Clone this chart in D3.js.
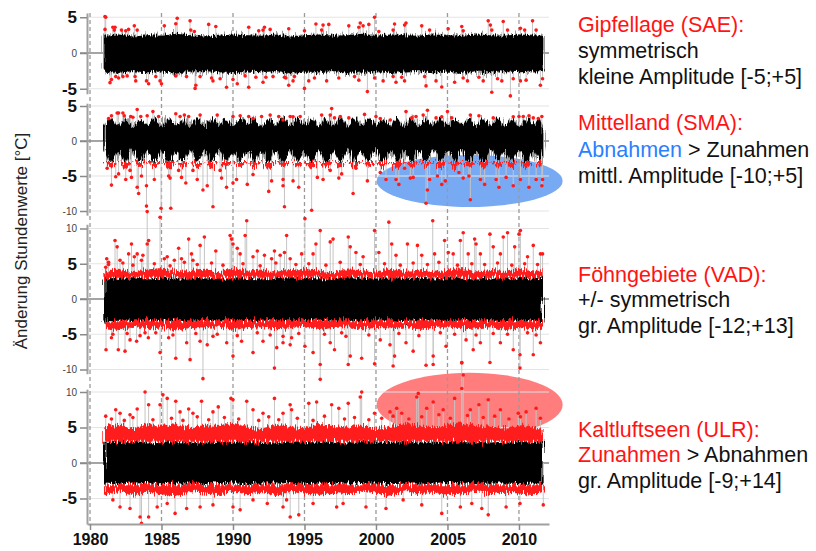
<!DOCTYPE html>
<html>
<head>
<meta charset="utf-8">
<script src="https://cdn.jsdelivr.net/npm/d3@7"></script>
<style>
  body { margin: 0; background: #fff; }
  text { font-family: "Liberation Sans", Arial, sans-serif; }
</style>
</head>
<body>
<div id="chart"></div>
<script>
// ---- data ----
const yearTicks = [1980, 1985, 1990, 1995, 2000, 2005, 2010];
const yearTimes = d3.range(1981, 2012).concat([2011.65]);            // yearly envelope points
const halfYearTimes = d3.range(1981, 2011.6, 0.5).concat([2011.65]); // half-year envelope points (SMA)
const redThreshold = 3;

// Gipfellage SAE
const saeHi = [2.4,2.6,2.3,2.5,2.4,2.7,2.5,2.3,2.4,2.6,2.5,2.4,2.6,2.3,2.5,2.6,2.4,2.5,2.7,2.4,2.6,2.5,2.4,2.6,2.5,2.4,2.6,2.5,2.4,2.6,2.5,2.4];
const saeLo = [-2.6,-2.8,-2.5,-2.7,-2.6,-2.9,-2.6,-2.5,-2.7,-2.8,-2.6,-2.7,-2.5,-2.8,-2.6,-2.7,-2.5,-2.8,-2.6,-2.7,-2.8,-2.6,-2.5,-2.7,-2.6,-2.8,-2.6,-2.7,-2.5,-2.7,-2.6,-2.5];
const saeDots = [[1981.05,5.1],[1981.1,5.0],[1981.05,3.3],[1981.6,3.6],[1981.7,3.2],[1981.75,3.6],[1982.2,3.2],[1982.5,3.1],[1982.7,3.3],[1983.1,3.8],[1983.3,3.2],[1985.2,3.8],[1986.0,4.1],[1986.1,4.85],[1987.0,4.5],[1987.05,3.2],[1987.3,3.0],[1988.3,4.0],[1988.8,3.7],[1991.1,3.6],[1991.8,3.1],[1992.1,3.2],[1992.2,3.6],[1992.6,3.3],[1993.9,3.4],[1995.0,3.1],[1995.8,4.05],[1996.2,3.2],[1996.3,3.9],[1996.7,4.0],[1998.1,3.8],[1998.8,3.6],[1998.9,4.2],[1999.1,3.8],[1999.5,4.0],[1999.9,5.0],[2000.2,3.0],[2001.2,3.2],[2001.3,4.05],[2002.0,3.9],[2002.1,4.2],[2003.2,3.8],[2003.75,3.2],[2005.05,3.4],[2006.0,3.7],[2006.1,3.1],[2007.85,4.5],[2008.0,3.9],[2008.1,3.2],[2008.9,4.4],[2009.2,3.2],[2010.1,3.45],[2010.4,3.2],[2010.95,4.5],[2011.2,3.2],
  [1981.4,-4.15],[1981.5,-3.7],[1981.8,-3.3],[1982.0,-3.5],[1982.3,-3.3],[1982.6,-3.2],[1983.15,-3.3],[1983.2,-3.9],[1983.95,-3.9],[1984.1,-4.3],[1984.6,-3.3],[1984.9,-3.9],[1985.0,-4.3],[1986.0,-3.2],[1986.75,-3.3],[1987.35,-4.95],[1987.4,-4.5],[1987.7,-3.3],[1988.5,-3.5],[1988.6,-3.9],[1989.1,-3.6],[1989.55,-4.8],[1990.0,-3.7],[1990.3,-4.3],[1990.85,-3.2],[1991.1,-4.8],[1991.6,-3.4],[1992.1,-4.1],[1992.3,-3.4],[1992.8,-3.3],[1993.6,-3.4],[1993.7,-3.5],[1993.9,-4.5],[1994.2,-3.9],[1994.3,-3.3],[1995.0,-4.95],[1995.3,-3.9],[1995.7,-3.5],[1996.55,-3.9],[1997.4,-3.5],[1998.5,-3.3],[1998.8,-3.8],[1999.4,-5.4],[1999.9,-3.5],[2000.5,-3.9],[2001.2,-3.3],[2001.4,-4.1],[2001.8,-3.4],[2002.0,-3.9],[2003.4,-3.3],[2003.5,-4.6],[2004.2,-3.9],[2004.6,-4.75],[2005.5,-4.1],[2006.1,-3.5],[2006.4,-3.9],[2007.2,-3.4],[2007.5,-3.9],[2008.1,-5.5],[2008.5,-3.6],[2008.8,-3.9],[2009.4,-6.0],[2009.6,-3.6],[2010.1,-3.9],[2010.5,-3.8],[2011.5,-4.5],[2011.65,-3.6]];

// Mittelland SMA (half-year points: winter neck, summer bulge)
const smaHi = [2.1,3.2,2.2,3.3,2.0,3.1,2.3,3.2,2.1,3.3,2.2,3.1,2.0,3.3,2.1,3.1,2.3,3.2,2.1,3.3,2.2,3.2,2.0,3.1,2.2,3.3,2.1,3.2,2.3,3.1,2.1,3.3,2.2,3.2,2.0,3.3,2.1,3.2,2.3,3.1,2.2,3.3,2.1,3.2,2.0,3.3,2.2,3.2,2.1,3.1,2.3,3.3,2.1,3.2,2.2,3.1,2.1,3.3,2.0,3.2,2.2,3.1,2.2];
const smaLo = [-1.3,-3.0,-1.5,-3.1,-1.2,-2.9,-1.4,-3.0,-1.3,-3.1,-1.5,-2.9,-1.2,-3.0,-1.4,-3.1,-1.3,-3.0,-1.5,-2.9,-1.4,-3.0,-1.2,-3.1,-1.4,-3.0,-1.3,-2.9,-1.5,-3.1,-1.3,-3.0,-1.4,-3.0,-1.2,-3.1,-1.4,-2.9,-1.3,-3.0,-1.5,-3.1,-1.3,-3.0,-1.4,-2.9,-1.2,-3.0,-1.4,-3.1,-1.3,-3.0,-1.4,-3.1,-1.3,-2.9,-1.5,-3.0,-1.3,-3.1,-1.4,-3.0,-1.4];
const smaRedLo = [-3.0,-3.8,-3.0,-4.0,-3.0,-3.7,-3.0,-3.9,-3.0,-4.1,-3.0,-3.8,-3.0,-3.9,-3.0,-4.0,-3.0,-3.8,-3.0,-3.7,-3.0,-3.9,-3.0,-4.0,-3.0,-3.8,-3.0,-3.7,-3.0,-4.1,-3.0,-3.9,-3.0,-3.8,-3.0,-4.0,-3.0,-3.7,-3.0,-3.9,-3.0,-4.0,-3.0,-3.8,-3.0,-3.7,-3.0,-3.9,-3.0,-4.0,-3.0,-3.8,-3.0,-4.1,-3.0,-3.8,-3.0,-3.9,-3.0,-4.0,-3.0,-3.8,-3.0];
const smaDots = [[1981.3,3.2],[1981.5,3.6],[1981.9,4.0],[1982.0,4.0],[1982.3,4.0],[1982.4,3.6],[1982.85,3.5],[1983.0,3.4],[1983.3,4.5],[1983.55,3.5],[1984.0,3.6],[1984.4,4.2],[1984.8,3.5],[1986.0,3.9],[1986.3,3.5],[1986.6,3.7],[1986.9,3.5],[1987.7,3.7],[1988.9,3.7],[1990.0,3.5],[1990.5,3.6],[1991.1,3.5],[1991.4,3.2],[1992.0,3.5],[1992.6,3.7],[1993.2,3.5],[1993.5,3.0],[1994.0,3.5],[1994.2,3.45],[1994.7,3.5],[1996.2,3.7],[1996.8,3.7],[1996.9,4.65],[1997.1,3.3],[1997.5,3.5],[1998.1,3.3],[1999.2,3.8],[2000.0,3.5],[2000.3,3.2],[2001.0,3.0],[2002.1,4.2],[2002.5,3.3],[2002.8,3.5],[2003.3,3.7],[2003.6,4.4],[2004.2,3.3],[2004.6,3.45],[2005.0,4.2],[2005.3,3.3],[2006.6,3.7],[2007.2,3.6],[2008.2,3.3],[2009.6,3.45],[2010.0,3.5],[2010.3,3.5],[2010.7,3.6],[2011.0,3.3],[2011.35,3.2],[2011.6,3.5],
  [1981.2,-3.9],[1981.5,-3.5],[1981.8,-5.1],[1981.5,-6.3],[1982.0,-4.7],[1982.4,-3.7],[1982.5,-5.5],[1982.8,-4.2],[1982.9,-5.2],[1983.3,-6.6],[1983.4,-7.5],[1983.6,-5.0],[1983.95,-6.4],[1983.95,-9.3],[1984.5,-5.5],[1984.97,-9.6],[1985.5,-5.0],[1985.6,-5.3],[1985.65,-9.6],[1986.2,-4.2],[1986.4,-5.2],[1986.7,-6.0],[1987.2,-4.2],[1987.5,-5.5],[1987.9,-7.0],[1988.2,-6.4],[1988.6,-9.4],[1989.1,-4.2],[1989.2,-5.3],[1989.55,-6.6],[1990.0,-6.0],[1990.25,-5.5],[1991.0,-6.2],[1991.4,-4.8],[1992.5,-7.2],[1992.7,-5.7],[1993.5,-6.4],[1993.6,-9.4],[1993.5,-5.5],[1994.2,-5.7],[1994.6,-6.6],[1995.5,-9.9],[1995.9,-5.2],[1996.3,-5.5],[1996.8,-4.2],[1997.4,-5.3],[1997.6,-4.7],[1998.4,-7.5],[1998.6,-3.9],[1999.4,-5.7],[2000.3,-4.5],[2000.7,-5.5],[2001.4,-5.5],[2001.6,-6.2],[2002.0,-3.9],[2002.4,-5.3],[2002.6,-5.2],[2003.5,-8.9],[2003.6,-7.0],[2003.75,-5.5],[2004.3,-5.0],[2004.6,-6.2],[2004.85,-5.7],[2005.8,-4.5],[2006.1,-5.3],[2006.5,-5.0],[2006.6,-8.4],[2007.3,-5.5],[2007.6,-6.2],[2008.4,-5.5],[2008.6,-6.6],[2009.1,-5.2],[2009.6,-6.4],[2010.1,-5.5],[2010.7,-6.6],[2011.2,-5.5],[2011.6,-6.4],[2011.65,-5.5]];

// Föhngebiete VAD
const vadHi = [2.9,3.0,3.1,2.9,3.0,3.0,3.1,2.9,3.0,3.1,3.0,2.9,3.0,3.1,3.0,2.9,3.0,3.1,3.0,2.9,3.1,3.0,3.0,2.9,3.1,3.0,2.9,3.0,3.1,3.0,2.9,3.0];
const vadLo = [-3.2,-3.1,-3.3,-3.2,-3.1,-3.2,-3.3,-3.1,-3.2,-3.2,-3.3,-3.1,-3.2,-3.3,-3.2,-3.1,-3.2,-3.3,-3.1,-3.2,-3.2,-3.3,-3.1,-3.2,-3.3,-3.2,-3.1,-3.2,-3.3,-3.2,-3.1,-3.2];
const vadRedHi = [4.0,4.3,3.8,4.2,4.4,3.9,4.1,4.3,3.8,4.4,4.0,4.2,3.9,4.1,4.3,4.0,3.8,4.2,4.1,3.9,4.3,4.0,4.1,3.8,4.2,4.4,3.9,4.1,4.0,4.3,3.9,4.1];
const vadRedLo = [-4.1,-4.4,-3.9,-4.3,-4.0,-4.5,-4.1,-4.2,-3.9,-4.4,-4.1,-4.0,-4.3,-4.2,-3.9,-4.4,-4.1,-4.0,-4.3,-4.1,-4.2,-3.9,-4.4,-4.1,-4.0,-4.3,-4.2,-4.0,-4.4,-4.1,-4.3,-4.2];
const vadDots = [[1981.17,5.7],[1981.1,4.5],[1981.3,5.2],[1981.75,8.3],[1981.9,7.4],[1982.1,5.5],[1982.7,6.4],[1982.9,7.8],[1983.1,6.0],[1983.3,6.4],[1983.6,5.5],[1983.7,6.2],[1984.0,7.8],[1984.0,12.4],[1984.1,8.3],[1984.9,11.6],[1985.2,5.7],[1985.4,6.0],[1985.9,5.5],[1986.2,7.2],[1986.4,5.7],[1986.9,8.5],[1987.1,6.4],[1987.2,5.5],[1987.7,7.6],[1988.0,8.8],[1988.8,6.8],[1989.8,9.0],[1989.9,8.5],[1990.0,7.8],[1990.3,7.2],[1990.5,6.4],[1990.85,9.0],[1990.96,11.1],[1991.4,6.0],[1991.7,6.8],[1992.2,6.2],[1992.7,5.7],[1992.9,6.8],[1993.3,6.2],[1993.6,6.6],[1993.75,9.0],[1994.0,5.7],[1994.8,6.4],[1995.03,11.4],[1995.6,6.4],[1995.8,7.8],[1996.1,9.7],[1996.8,8.1],[1997.0,8.5],[1998.06,8.8],[1998.2,7.4],[1998.6,6.6],[1999.1,6.0],[1999.9,9.7],[2000.2,6.6],[2000.9,10.9],[2001.1,7.8],[2001.4,6.2],[2002.2,7.8],[2002.9,7.6],[2003.2,6.2],[2003.97,11.1],[2004.1,6.4],[2004.8,8.3],[2005.06,6.6],[2005.4,6.4],[2005.9,8.3],[2006.1,9.4],[2006.45,6.4],[2006.9,8.5],[2007.0,7.8],[2007.3,6.4],[2007.97,9.2],[2008.2,7.4],[2008.7,6.4],[2008.9,8.8],[2009.2,9.4],[2009.7,7.4],[2010.0,9.2],[2010.1,9.7],[2010.6,6.0],[2011.0,7.6],[2011.5,6.4],[2011.65,6.4],
  [1981.3,4.9],[1982.3,5.1],[1983.0,4.8],[1984.5,5.0],[1985.6,4.7],[1986.6,5.2],[1987.5,4.9],[1988.5,5.1],[1989.3,4.8],[1990.7,5.0],[1991.9,4.7],[1993.0,5.1],[1994.4,4.9],[1995.3,5.0],[1996.5,4.8],[1997.5,5.2],[1998.9,4.9],[2000.6,5.0],[2001.7,4.8],[2002.6,5.1],[2003.6,4.9],[2004.4,5.2],[2005.7,4.8],[2006.7,5.0],[2007.6,4.9],[2008.5,5.1],[2009.5,4.8],[2010.4,5.0],[2011.3,4.9],
  [1981.12,-7.2],[1981.5,-5.5],[1981.98,-7.2],[1982.45,-7.4],[1982.8,-5.8],[1983.26,-6.0],[1983.85,-4.8],[1984.08,-5.5],[1984.9,-7.6],[1985.5,-5.5],[1986.0,-8.4],[1986.76,-6.2],[1987.0,-8.6],[1987.7,-6.0],[1987.9,-11.3],[1988.2,-6.5],[1988.6,-5.3],[1989.56,-6.2],[1990.0,-8.1],[1990.6,-6.0],[1991.4,-7.6],[1992.1,-6.0],[1992.9,-9.8],[1993.06,-6.9],[1993.5,-6.2],[1994.1,-5.5],[1993.5,-5.3],[1994.0,-6.5],[1995.03,-6.7],[1995.6,-7.6],[1996.1,-11.4],[1996.1,-9.3],[1996.8,-6.2],[1997.1,-7.2],[1997.9,-5.3],[1998.06,-9.3],[1998.2,-8.1],[1999.0,-8.4],[1999.9,-9.2],[2000.3,-5.8],[2000.98,-6.5],[2001.2,-9.5],[2001.3,-8.1],[2002.1,-6.2],[2002.6,-7.4],[2003.5,-9.4],[2004.0,-9.3],[2004.0,-8.1],[2004.9,-6.7],[2006.0,-9.0],[2006.3,-5.8],[2006.8,-7.2],[2007.3,-6.2],[2007.97,-9.0],[2008.7,-6.2],[2009.6,-7.2],[2010.07,-9.8],[2010.07,-7.9],[2011.0,-7.9],[2011.5,-6.2],
  [1981.6,-5.0],[1982.6,-4.9],[1983.5,-5.2],[1984.6,-4.8],[1985.8,-5.1],[1987.4,-4.9],[1988.9,-5.0],[1990.3,-5.2],[1991.7,-4.8],[1992.6,-5.1],[1994.6,-4.9],[1996.4,-5.0],[1997.6,-4.8],[1999.5,-5.1],[2001.6,-4.9],[2003.0,-5.2],[2004.5,-4.8],[2005.5,-5.0],[2007.0,-5.1],[2008.2,-4.9],[2009.2,-5.0],[2010.6,-4.8],[2011.2,-5.1]];

// Kaltluftseen ULR
const ulrHi = [3.0,3.0,3.1,2.9,3.0,3.1,3.0,2.9,3.0,3.0,3.1,3.0,2.9,3.0,3.1,3.0,3.0,2.9,3.1,3.0,3.0,3.1,2.9,3.0,3.0,3.1,3.0,2.9,3.0,3.1,3.0,3.0];
const ulrLo = [-2.9,-3.0,-2.9,-2.8,-3.0,-2.9,-2.9,-3.0,-2.8,-2.9,-3.0,-2.9,-2.9,-2.8,-3.0,-2.9,-3.0,-2.9,-2.8,-2.9,-3.0,-2.9,-2.9,-3.0,-2.8,-2.9,-3.0,-2.9,-2.9,-3.0,-2.9,-2.9];
const ulrRedHi = [5.0,5.4,4.8,5.6,5.1,5.5,4.9,5.3,5.2,5.7,5.0,4.8,5.4,5.1,4.9,5.5,5.2,5.0,5.4,4.8,5.1,5.5,5.3,5.0,5.4,5.6,5.2,5.1,4.9,5.3,5.0,4.8];
const ulrRedLo = [-4.3,-4.0,-4.6,-4.2,-4.4,-4.7,-4.1,-4.3,-4.5,-4.0,-4.4,-4.2,-4.6,-4.1,-4.3,-4.5,-4.2,-4.4,-4.0,-4.3,-4.6,-4.1,-4.4,-4.2,-4.5,-4.3,-4.1,-4.4,-4.2,-4.3,-4.5,-4.1];
const ulrDots = [[1981.1,6.6],[1981.8,7.5],[1982.1,7.0],[1982.8,6.8],[1983.3,7.6],[1983.85,10.0],[1984.1,8.2],[1984.9,8.2],[1985.1,9.6],[1985.4,9.1],[1986.0,8.7],[1986.3,7.2],[1986.9,7.6],[1987.2,7.0],[1987.8,8.7],[1988.6,7.2],[1988.97,7.9],[1989.86,9.1],[1990.0,8.9],[1990.96,8.7],[1991.4,7.5],[1992.1,7.0],[1992.9,9.1],[1993.5,7.0],[1994.1,7.5],[1994.0,8.2],[1995.3,8.4],[1995.85,8.6],[1996.9,8.2],[1997.4,7.7],[1998.06,8.4],[1998.9,9.3],[1999.0,10.0],[1999.9,7.0],[2000.98,7.2],[2001.45,7.7],[2001.8,7.0],[2002.85,9.3],[2002.96,9.8],[2003.55,7.7],[2004.0,8.6],[2004.7,7.5],[2005.5,9.1],[2006.0,10.5],[2006.1,12.4],[2006.0,14.1],[2006.6,7.5],[2007.2,8.2],[2007.85,8.9],[2008.7,7.5],[2009.95,7.0],[2010.5,7.2],[2011.2,7.7],
  [1981.5,6.2],[1982.4,6.0],[1983.0,6.4],[1984.4,6.1],[1985.7,6.3],[1986.5,6.0],[1987.5,6.5],[1988.3,6.1],[1989.4,6.4],[1990.4,6.2],[1991.8,6.0],[1992.5,6.5],[1993.2,6.1],[1994.5,6.3],[1995.6,6.0],[1996.4,6.6],[1997.8,6.2],[1998.5,6.4],[1999.5,6.1],[2000.4,6.3],[2001.2,6.6],[2002.3,6.2],[2003.2,6.5],[2004.4,6.8],[2005.2,6.3],[2006.4,6.7],[2007.5,6.4],[2008.3,6.6],[2009.3,6.2],[2010.1,6.5],[2011.5,6.3],
  [1981.1,-4.3],[1981.6,-5.2],[1982.1,-6.2],[1982.8,-6.4],[1983.5,-7.6],[1983.6,-8.5],[1984.1,-7.6],[1984.7,-6.2],[1985.4,-5.7],[1985.95,-7.1],[1986.76,-6.4],[1987.7,-6.2],[1988.6,-5.9],[1990.0,-6.2],[1990.5,-6.6],[1991.4,-5.2],[1992.4,-5.7],[1993.5,-6.2],[1994.0,-7.6],[1993.75,-5.2],[1994.6,-7.3],[1995.6,-5.7],[1997.25,-6.2],[1997.7,-5.7],[1999.3,-6.2],[2000.7,-6.4],[2001.9,-5.2],[2003.2,-5.9],[2004.6,-7.1],[2005.9,-6.2],[2006.7,-5.7],[2007.4,-6.4],[2007.85,-7.3],[2009.1,-6.2],[2010.07,-5.7],[2011.7,-5.9]];

// right-hand annotation text
const noteLines = [
  [["Gipfellage (SAE):", "red"]],
  [["symmetrisch", "black"]],
  [["kleine Amplitude [-5;+5]", "black"]],
  [["Mittelland (SMA):", "red"]],
  [["Abnahmen", "blue"], [" > Zunahmen", "black"]],
  [["mittl. Amplitude [-10;+5]", "black"]],
  [["Föhngebiete (VAD):", "red"]],
  [["+/- symmetrisch", "black"]],
  [["gr. Amplitude [-12;+13]", "black"]],
  [["Kaltluftseen (ULR):", "red"]],
  [["Zunahmen", "red"], [" > Abnahmen", "black"]],
  [["gr. Amplitude [-9;+14]", "black"]]
];
const noteY = [32, 58, 84, 130, 157, 183, 282, 307, 333, 437, 462, 488];

// ---- layout ----
const W = 816, H = 551;
const colors = {red: "#ff1414", blue: "#2a7fff", black: "#111", dot: "#ff1a1a", spike: "#c4c4c4"};

const svg = d3.select("#chart").append("svg")
    .attr("width", W)
    .attr("height", H);

// noisy edges for the dense hourly series
const defs = svg.append("defs");
function roughFilter(id, scale, seed) {
    let f = defs.append("filter").attr("id", id)
        .attr("x", "-3%").attr("y", "-60%").attr("width", "106%").attr("height", "220%");
    f.append("feTurbulence").attr("type", "fractalNoise")
        .attr("baseFrequency", "0.9 0.03").attr("numOctaves", 2).attr("seed", seed).attr("result", "n");
    f.append("feDisplacementMap").attr("in", "SourceGraphic").attr("in2", "n")
        .attr("scale", scale).attr("xChannelSelector", "A").attr("yChannelSelector", "G");
}
roughFilter("roughBlack", 9, 2);
roughFilter("roughGray", 18, 7);
roughFilter("roughRed", 12, 4);

const x = d3.scaleLinear().domain([1979.8, 2012.1]).range([87.14, 549]);

const panels = [
  {zero: 53,  k: 7.15, dom: [-5.7, 5.6],  ticks: [5, 0, -5],           times: yearTimes,     hi: saeHi, lo: saeLo, dots: saeDots, fringe: true},
  {zero: 141, k: 7.0,  dom: [-10.6, 5.4], ticks: [5, 0, -5, -10],      times: halfYearTimes, hi: smaHi, lo: smaLo, redLo: smaRedLo, dots: smaDots, fringe: true, curve: d3.curveMonotoneX},
  {zero: 299, k: 7.05, dom: [-10.6, 10.6],ticks: [10, 5, 0, -5, -10],  times: yearTimes,     hi: vadHi, lo: vadLo, redHi: vadRedHi, redLo: vadRedLo, dots: vadDots},
  {zero: 463, k: 7.1,  dom: [-8.6, 10.4], ticks: [10, 5, 0, -5],       times: yearTimes,     hi: ulrHi, lo: ulrLo, redHi: ulrRedHi, redLo: ulrRedLo, dots: ulrDots}
];
panels.forEach(function (p) {
    p.y = d3.scaleLinear().domain(p.dom).range([p.zero - p.dom[0] * p.k, p.zero - p.dom[1] * p.k]);
});

// highlight ellipses (behind the plot)
svg.append("ellipse")
    .attr("cx", x(2006.55)).attr("cy", panels[1].y(-5.7))
    .attr("rx", 93).attr("ry", 26)
    .attr("fill", "#78aaf4");
svg.append("ellipse")
    .attr("cx", x(2006.55)).attr("cy", panels[3].y(8.2))
    .attr("rx", 93).attr("ry", 32)
    .attr("fill", "#ff7d7d");

// grid lines
panels.forEach(function (p) {
    svg.append("g").selectAll("line")
        .data(p.ticks)
        .enter().append("line")
        .attr("x1", 87).attr("x2", 549)
        .attr("y1", d => p.y(d)).attr("y2", d => p.y(d))
        .attr("stroke", "#e4e4e4")
        .attr("stroke-width", 1.2);
});

// dashed year lines
svg.append("g").selectAll("line")
    .data(yearTicks)
    .enter().append("line")
    .attr("x1", d => x(d)).attr("x2", d => x(d))
    .attr("y1", 13).attr("y2", 524)
    .attr("stroke", "#9a9a9a")
    .attr("stroke-width", 1.3)
    .attr("stroke-dasharray", "4,3");

// zero lines
panels.forEach(function (p) {
    svg.append("line")
        .attr("x1", 80).attr("x2", 549)
        .attr("y1", p.y(0)).attr("y2", p.y(0))
        .attr("stroke", "#8a8a8a")
        .attr("stroke-width", 1.6);
});

// data
panels.forEach(function (p) {
    let g = svg.append("g");
    let curve = p.curve || d3.curveLinear;

    // spikes behind everything
    g.selectAll(".spike")
        .data(p.dots)
        .enter().append("line")
        .attr("x1", d => x(d[0])).attr("x2", d => x(d[0]))
        .attr("y1", p.y(0)).attr("y2", d => p.y(d[1]))
        .attr("stroke", colors.spike)
        .attr("stroke-width", 1);

    let band = d3.area()
        .x((d, i) => x(p.times[i]))
        .y0((d, i) => p.y(p.lo[i]))
        .y1((d, i) => p.y(p.hi[i]))
        .curve(curve);

    if (p.fringe) {
        g.append("path")
            .datum(p.hi)
            .attr("d", band)
            .attr("fill", "#9a9a9a")
            .attr("filter", "url(#roughGray)");
    }
    g.append("path")
        .datum(p.hi)
        .attr("d", band)
        .attr("fill", "#000")
        .attr("filter", "url(#roughBlack)");

    // dense red zones beyond the threshold
    if (p.redHi) {
        let upper = d3.area()
            .x((d, i) => x(p.times[i]))
            .y0(p.y(redThreshold))
            .y1((d, i) => p.y(p.redHi[i]))
            .curve(curve);
        g.append("path").datum(p.redHi).attr("d", upper)
            .attr("fill", colors.dot).attr("filter", "url(#roughRed)");
    }
    if (p.redLo) {
        let lower = d3.area()
            .x((d, i) => x(p.times[i]))
            .y0(p.y(-redThreshold))
            .y1((d, i) => p.y(p.redLo[i]))
            .curve(curve);
        g.append("path").datum(p.redLo).attr("d", lower)
            .attr("fill", colors.dot).attr("filter", "url(#roughRed)");
    }

    g.selectAll(".dot")
        .data(p.dots)
        .enter().append("circle")
        .attr("cx", d => x(d[0]))
        .attr("cy", d => p.y(d[1]))
        .attr("r", 1.8)
        .attr("fill", colors.dot);
});

// left axes
panels.forEach(function (p) {
    let ax = svg.append("g")
        .attr("transform", "translate(87,0)")
        .call(d3.axisLeft(p.y).tickValues(p.ticks).tickSize(7).tickSizeOuter(0).tickPadding(3));
    ax.select(".domain").attr("stroke", "#a0a0a0").attr("stroke-width", 2);
    ax.selectAll(".tick line").attr("stroke", "#8a8a8a").attr("stroke-width", 1.5);
    ax.selectAll(".tick text")
        .attr("font-family", "'Liberation Sans', Arial, sans-serif")
        .attr("font-size", d => Math.abs(d) === 5 ? 17 : 10)
        .attr("font-weight", d => Math.abs(d) === 5 ? "bold" : "normal")
        .attr("fill", d => Math.abs(d) === 5 ? "#111" : "#444")
        .text(d => d < 0 ? "-" + Math.abs(d) : d);
});

// bottom axis
let xAxis = svg.append("g")
    .attr("transform", "translate(0,524)")
    .call(d3.axisBottom(x).tickValues(yearTicks).tickFormat(d3.format("d")).tickSize(6).tickSizeOuter(0).tickPadding(4));
xAxis.select(".domain").attr("stroke", "#a0a0a0").attr("stroke-width", 2);
xAxis.selectAll(".tick line").attr("stroke", "#8a8a8a").attr("stroke-width", 1.5);
xAxis.selectAll(".tick text")
    .attr("font-family", "'Liberation Sans', Arial, sans-serif")
    .attr("font-size", 16)
    .attr("font-weight", "bold")
    .attr("fill", "#111");

// y label
svg.append("text")
    .attr("transform", "translate(27,241) rotate(-90)")
    .attr("text-anchor", "middle")
    .attr("font-size", 17)
    .attr("fill", "#222")
    .text("Änderung Stundenwerte [°C]");

// annotations
noteLines.forEach(function (parts, i) {
    let t = svg.append("text")
        .attr("x", 578)
        .attr("y", noteY[i])
        .attr("font-size", 21.5);
    parts.forEach(function (part) {
        t.append("tspan")
            .attr("fill", colors[part[1]])
            .text(part[0]);
    });
});
</script>
</body>
</html>
